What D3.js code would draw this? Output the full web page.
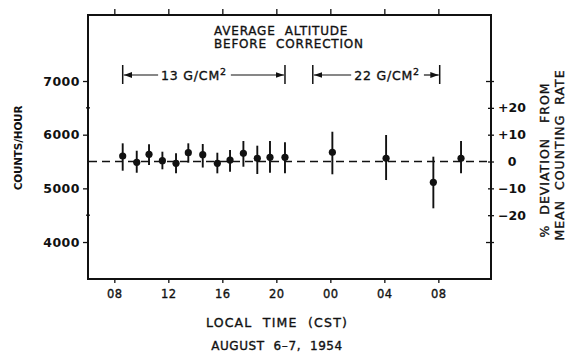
<!DOCTYPE html>
<html>
<head>
<meta charset="utf-8">
<script src="https://cdn.jsdelivr.net/npm/d3@7"></script>
<style>
  body { margin: 0; background: #fff; }
  text { font-family: "DejaVu Sans", sans-serif; fill: #111; white-space: pre; }
  .ink { stroke: #111; stroke-width: 0.35px; }
</style>
</head>
<body>
<div id="chart"></div>
<script>
// hours counted from 00 on August 6 (so 24 = 00 on August 7)
var hours  = [8.62, 9.66, 10.57, 11.56, 12.57, 13.48, 14.55, 15.63, 16.57, 17.56, 18.59, 19.53, 20.64, 24.15, 28.13, 31.63, 33.68];
var counts = [5603, 5485, 5634, 5515, 5467, 5664, 5627, 5467, 5528, 5653, 5560, 5578, 5578, 5672, 5560, 5113, 5560];
var errHi  = [5839, 5701, 5821, 5683, 5653, 5839, 5826, 5664, 5714, 5882, 5795, 5882, 5858, 6055, 5994, 5590, 5882];
var errLo  = [5329, 5291, 5435, 5355, 5280, 5478, 5388, 5280, 5310, 5403, 5267, 5291, 5280, 5262, 5155, 4628, 5280];
var meanRate = 5500;

var xTicks = [8, 12, 16, 20, 24, 28, 32];
var yTicks = [4000, 5000, 6000, 7000];
var yMinorTicks = [4500, 6500];
var pctTicks = [-30, -20, -10, 0, 10, 20, 30];
var pctLabels = [-20, -10, 0, 10, 20];

var brackets = [
  { label: "13 G/CM", from: 8.62, to: 20.64, labelAt: 13.9 },
  { label: "22 G/CM", from: 22.7, to: 32.1, labelAt: 28.2 }
];
var titleLines = ["AVERAGE  ALTITUDE", "BEFORE  CORRECTION"];

var W = 568, H = 352;
var frame = { left: 88, right: 491, top: 15, bottom: 279 };

var svg = d3.select("#chart").append("svg")
  .attr("width", W).attr("height", H);

var x = d3.scaleLinear().domain([6.05, 35.9]).range([frame.left, frame.right]);
var y = d3.scaleLinear().domain([3311, 8230]).range([frame.bottom, frame.top]);
// right axis: percent deviation, 10% drawn per 500 counts as on the original
var yPct = d3.scaleLinear()
  .domain(y.domain().map(function (v) { return (v - meanRate) / 50; }))
  .range(y.range());

// frame
svg.append("rect")
  .attr("x", frame.left).attr("y", frame.top)
  .attr("width", frame.right - frame.left).attr("height", frame.bottom - frame.top)
  .attr("fill", "none").attr("stroke", "#111").attr("stroke-width", 2);

function styleAxis(g) {
  g.select(".domain").remove();
  g.selectAll("line").attr("stroke", "#111").attr("stroke-width", 1.3);
}

// bottom axis
svg.append("g")
  .attr("transform", "translate(0," + frame.bottom + ")")
  .call(d3.axisBottom(x).tickValues(xTicks).tickSize(4).tickPadding(7)
    .tickFormat(function (d) { return d3.format("02d")(d % 24); }))
  .call(styleAxis)
  .selectAll("text")
  .attr("class", "ink")
  .attr("font-family", "DejaVu Sans Condensed, DejaVu Sans, sans-serif")
  .attr("font-size", 11.5).attr("letter-spacing", 0.6);

// top axis (ticks only)
svg.append("g")
  .attr("transform", "translate(0," + frame.top + ")")
  .call(d3.axisTop(x).tickValues(xTicks).tickSize(6).tickFormat(""))
  .call(styleAxis);

// left axis
svg.append("g")
  .attr("transform", "translate(" + frame.left + ",0)")
  .call(d3.axisLeft(y).tickValues(yTicks).tickSize(5).tickPadding(3)
    .tickFormat(d3.format("d")))
  .call(styleAxis)
  .selectAll("text")
  .attr("font-size", 12.5).attr("font-weight", "bold").attr("letter-spacing", 0.5);

svg.append("g")
  .selectAll("line")
  .data(yMinorTicks)
  .join("line")
  .attr("x1", frame.left - 2).attr("x2", frame.left + 2)
  .attr("y1", function (d) { return y(d); }).attr("y2", function (d) { return y(d); })
  .attr("stroke", "#111").attr("stroke-width", 1.3);

// right axis
var right = svg.append("g")
  .attr("transform", "translate(" + frame.right + ",0)")
  .call(d3.axisRight(yPct).tickValues(pctTicks).tickSize(3).tickFormat(""))
  .call(styleAxis);
right.selectAll(".tick line")
  .attr("x1", function (d) { return Math.abs(d) === 30 ? -5 : -3; });

svg.append("g")
  .selectAll("text")
  .data(pctLabels)
  .join("text")
  .attr("x", frame.right + 21)
  .attr("y", function (d) { return yPct(d); })
  .attr("dy", "0.36em")
  .attr("text-anchor", "middle")
  .attr("font-size", 12.5).attr("font-weight", "bold")
  .text(function (d) { return d > 0 ? "+" + d : d < 0 ? "\u2212" + (-d) : "0"; });

// axis titles
svg.append("text")
  .attr("transform", "translate(22,148) rotate(-90)")
  .attr("text-anchor", "middle")
  .attr("font-family", "DejaVu Sans Condensed, DejaVu Sans, sans-serif")
  .attr("font-size", 10.5).attr("font-weight", "bold").attr("letter-spacing", -0.2)
  .text("COUNTS/HOUR");

var rt = svg.append("text")
  .attr("class", "ink")
  .attr("transform", "translate(549,160) rotate(-90)")
  .attr("text-anchor", "middle")
  .attr("font-size", 12.5).attr("letter-spacing", 1);
rt.append("tspan").attr("x", 0).attr("y", 0).text("%  DEVIATION   FROM");
rt.append("tspan").attr("x", 5).attr("y", 15).text("MEAN  COUNTING  RATE");

svg.append("text")
  .attr("class", "ink")
  .attr("x", 277).attr("y", 327)
  .attr("text-anchor", "middle")
  .attr("font-size", 12.5).attr("letter-spacing", 1.2)
  .text("LOCAL  TIME  (CST)");
svg.append("text")
  .attr("class", "ink")
  .attr("x", 277).attr("y", 350)
  .attr("text-anchor", "middle")
  .attr("font-size", 12).attr("letter-spacing", 0.6)
  .text("AUGUST  6\u20137,  1954");

// title inside the frame
svg.append("g")
  .selectAll("text")
  .data(titleLines)
  .join("text")
  .attr("class", "ink")
  .attr("x", 214)
  .attr("y", function (d, i) { return 35 + i * 13; })
  .attr("font-size", 12).attr("letter-spacing", 0.8)
  .text(function (d) { return d; });

// altitude brackets with arrows
svg.append("defs").append("marker")
  .attr("id", "arrow")
  .attr("viewBox", "0 0 10 10")
  .attr("refX", 10).attr("refY", 5)
  .attr("markerWidth", 7).attr("markerHeight", 7)
  .attr("orient", "auto")
  .append("path")
  .attr("d", "M0,1.5 L10,5 L0,8.5 Z")
  .attr("fill", "#111");

var bracketY = 75;
brackets.forEach(function (b) {
  var g = svg.append("g");
  [b.from, b.to].forEach(function (h) {
    g.append("line")
      .attr("x1", x(h)).attr("x2", x(h))
      .attr("y1", bracketY - 10).attr("y2", bracketY + 9)
      .attr("stroke", "#111").attr("stroke-width", 1.5);
  });
  var t = g.append("text")
    .attr("class", "ink")
    .attr("x", x(b.labelAt)).attr("y", bracketY + 5)
    .attr("text-anchor", "middle")
    .attr("font-size", 12.5).attr("letter-spacing", 0.8);
  t.append("tspan").text(b.label);
  t.append("tspan").attr("dy", -5).attr("font-size", 9.5).text("2");
  var bb = t.node().getBBox();
  g.append("line")
    .attr("x1", bb.x - 3).attr("x2", x(b.from) + 1)
    .attr("y1", bracketY).attr("y2", bracketY)
    .attr("stroke", "#111").attr("stroke-width", 1.2)
    .attr("marker-end", "url(#arrow)");
  g.append("line")
    .attr("x1", bb.x + bb.width + 4).attr("x2", x(b.to) - 1)
    .attr("y1", bracketY).attr("y2", bracketY)
    .attr("stroke", "#111").attr("stroke-width", 1.2)
    .attr("marker-end", "url(#arrow)");
});

// mean line
svg.append("line")
  .attr("x1", frame.left + 1).attr("x2", frame.right - 1)
  .attr("y1", y(meanRate)).attr("y2", y(meanRate))
  .attr("stroke", "#111").attr("stroke-width", 1.4)
  .attr("stroke-dasharray", "8,5");

// error bars and points
var pts = hours.map(function (h, i) {
  return { h: h, v: counts[i], hi: errHi[i], lo: errLo[i] };
});
svg.append("g")
  .selectAll("line")
  .data(pts)
  .join("line")
  .attr("x1", function (d) { return x(d.h); }).attr("x2", function (d) { return x(d.h); })
  .attr("y1", function (d) { return y(d.hi); }).attr("y2", function (d) { return y(d.lo); })
  .attr("stroke", "#111").attr("stroke-width", 1.9);
svg.append("g")
  .selectAll("circle")
  .data(pts)
  .join("circle")
  .attr("cx", function (d) { return x(d.h); })
  .attr("cy", function (d) { return y(d.v); })
  .attr("r", 3.6)
  .attr("fill", "#111");
</script>
</body>
</html>
